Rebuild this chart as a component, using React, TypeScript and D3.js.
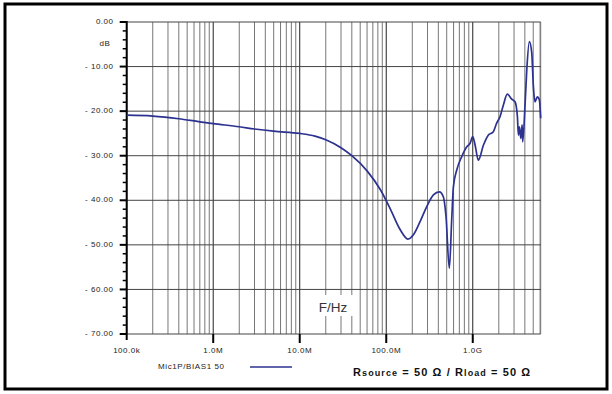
import React from "react";
import * as d3 from "d3";

// Frequency response, Mic1P/BIAS1 50 (Hz, dB)
const freqHz = [
  1e5, 2e5, 4e5, 7e5, 1e6, 2e6, 3e6, 5e6, 1e7, 1.5e7, 2e7, 3e7, 4e7, 6e7, 8.6e7,
  1.13e8, 1.44e8, 1.78e8, 2.1e8, 2.46e8, 2.94e8, 3.51e8, 4.11e8, 4.57e8, 4.91e8,
  5.36e8, 5.71e8, 5.97e8, 6.53e8, 7.46e8, 8.53e8, 9.31e8, 1.0e9, 1.064e9, 1.16e9,
  1.33e9, 1.51e9, 1.73e9, 1.89e9, 2.07e9, 2.26e9, 2.51e9, 2.82e9, 3.08e9, 3.28e9,
  3.37e9, 3.46e9, 3.59e9, 3.72e9, 3.78e9, 4.03e9, 4.21e9, 4.51e9, 4.81e9, 5.02e9,
  5.25e9, 5.58e9, 5.89e9, 6.1e9,
];
const gainDb = [
  -20.9, -21.1, -21.7, -22.4, -22.8, -23.5, -24.0, -24.5, -25.0, -25.6, -26.4,
  -28.2, -30.0, -33.4, -37.7, -42.2, -46.5, -48.7, -47.5, -44.8, -41.4, -38.8,
  -38.1, -39.2, -43.7, -55.3, -44.4, -37.0, -33.2, -30.2, -28.0, -27.2, -25.7,
  -27.6, -31.0, -27.6, -25.4, -24.6, -22.7, -21.2, -18.6, -16.2, -17.3, -17.9,
  -21.2, -25.4, -23.5, -26.1, -23.1, -26.9, -18.2, -10.8, -4.4, -7.0, -14.5,
  -17.9, -16.8, -17.5, -21.6,
];

const xTickValues = [1e5, 1e6, 1e7, 1e8, 1e9];
const xTickLabels = ["100.0k", "1.0M", "10.0M", "100.0M", "1.0G"];
const yTickValues = [0, -10, -20, -30, -40, -50, -60, -70];
const yTickLabels = ["0.00", "- 10.00", "- 20.00", "- 30.00", "- 40.00", "- 50.00", "- 60.00", "- 70.00"];

const seriesName = "Mic1P/BIAS1 50";

const W = 612;
const H = 394;
const FONT = "'Liberation Sans', Arial, Helvetica, sans-serif";
const LINE_COLOR = "#2c3290";

export default function App() {
  const x = d3.scaleLog().domain([1e5, 6.1e9]).range([126.7, 540.7]);
  const y = d3.scaleLinear().domain([0, -70]).range([22, 334]);
  const [x0, x1] = x.range();
  const [y0, y1] = y.range();

  // minor log grid: 2..9 within every decade
  const minorF: number[] = [];
  for (let dec = 1e5; dec < 6.1e9; dec *= 10) {
    for (let k = 2; k <= 9; k++) {
      const f = dec * k;
      if (f < 6.1e9) minorF.push(f);
    }
  }
  const minorDb = d3.range(0, -70.01, -2).filter((v) => v % 10 !== 0);

  const pts = freqHz.map((f, i) => [f, gainDb[i]] as [number, number]);
  const line = d3
    .line<[number, number]>()
    .x((d) => x(d[0]))
    .y((d) => y(d[1]))
    .curve(d3.curveMonotoneX);

  const tickFont = { fontSize: 8, letterSpacing: 0.5, fill: "#222" };

  return (
    <svg
      width={W}
      height={H}
      style={{ position: "absolute", left: 0, top: 0, background: "#fff" }}
      fontFamily={FONT}
    >
      <rect x={0} y={0} width={W} height={H} fill="#fff" />
      {/* outer frame */}
      <rect x={5} y={4} width={602} height={385} fill="none" stroke="#000" strokeWidth={3} />

      {/* minor vertical grid */}
      {minorF.map((f, i) => (
        <line key={"mv" + i} x1={x(f)} x2={x(f)} y1={y0} y2={y1} stroke="#777" strokeWidth={1} />
      ))}
      {/* decade vertical grid */}
      {xTickValues.map((f, i) => (
        <line key={"Mv" + i} x1={x(f)} x2={x(f)} y1={y0} y2={y1} stroke="#222" strokeWidth={1} />
      ))}
      {/* right edge */}
      <line x1={x1} x2={x1} y1={y0} y2={y1} stroke="#777" strokeWidth={1} />
      {/* horizontal grid */}
      {yTickValues.map((v, i) => (
        <line key={"hg" + i} x1={x0} x2={x1} y1={y(v)} y2={y(v)} stroke="#444" strokeWidth={1} />
      ))}

      {/* F/Hz label with white backing */}
      <rect x={313} y={295} width={40} height={21} fill="#fff" />
      <text x={333} y={308} fontSize={13.5} fill="#333" textAnchor="middle" dominantBaseline="middle">
        F/Hz
      </text>

      {/* y axis */}
      <line x1={x0} x2={x0} y1={y0 - 1} y2={y1 + 6} stroke="#000" strokeWidth={2} />
      {yTickValues.map((v, i) => (
        <g key={"yt" + i}>
          <line x1={x0 - 7} x2={x0} y1={y(v)} y2={y(v)} stroke="#000" strokeWidth={2} />
          <text x={113.5} y={y(v)} {...tickFont} textAnchor="end" dominantBaseline="middle">
            {yTickLabels[i]}
          </text>
        </g>
      ))}
      {minorDb.map((v, i) => (
        <line key={"ym" + i} x1={x0 - 4} x2={x0} y1={y(v)} y2={y(v)} stroke="#000" strokeWidth={1.5} />
      ))}
      <text x={105} y={44} {...tickFont} textAnchor="middle" dominantBaseline="middle">
        dB
      </text>

      {/* x ticks */}
      {xTickValues.map((f, i) => (
        <g key={"xt" + i}>
          {i > 0 && <line x1={x(f)} x2={x(f)} y1={y1} y2={y1 + 9} stroke="#000" strokeWidth={2} />}
          <text x={x(f)} y={351} {...tickFont} textAnchor="middle" dominantBaseline="middle">
            {xTickLabels[i]}
          </text>
        </g>
      ))}

      {/* curve */}
      <path d={line(pts) ?? ""} fill="none" stroke={LINE_COLOR} strokeWidth={1.7} strokeLinejoin="round" />

      {/* legend */}
      <text x={158} y={367} fontSize={8} letterSpacing={0.6} fill="#222" dominantBaseline="middle">
        {seriesName}
      </text>
      <line x1={250} x2={292} y1={367} y2={367} stroke={LINE_COLOR} strokeWidth={1.7} />
      <text x={353} y={375.5} fontSize={11} fontWeight="bold" fill="#111" letterSpacing={1.1}>
        R<tspan fontSize={9} dy={0.5}>source</tspan>
        <tspan dy={-0.5}> = 50 Ω / R</tspan>
        <tspan fontSize={9} dy={0.5}>load</tspan>
        <tspan dy={-0.5}> = 50 Ω</tspan>
      </text>
    </svg>
  );
}
